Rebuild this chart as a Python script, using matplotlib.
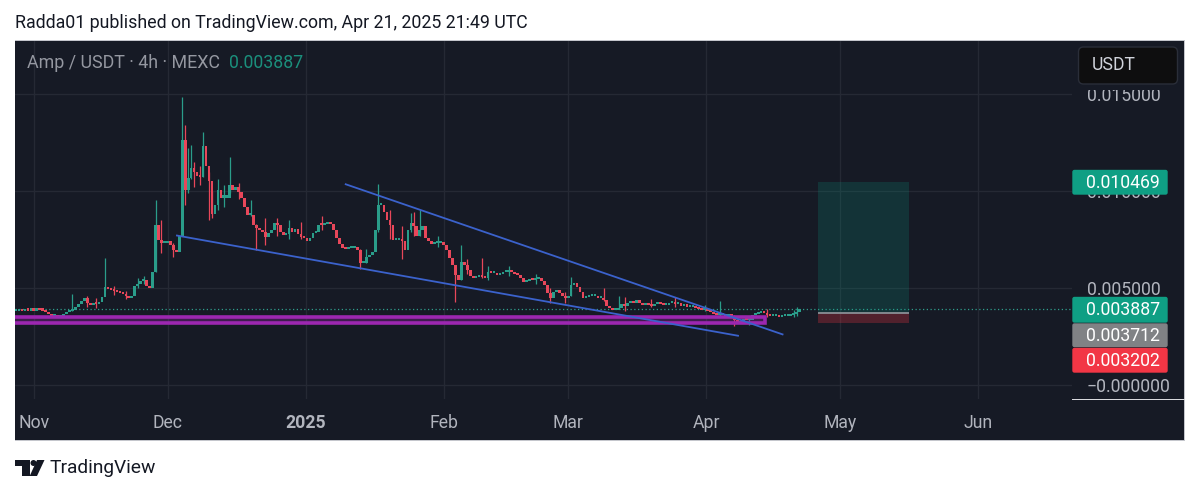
import numpy as np
import matplotlib
matplotlib.use("Agg")
import matplotlib.pyplot as plt
from matplotlib.patches import Rectangle, FancyBboxPatch, Polygon, Circle
from matplotlib.transforms import Affine2D

plt.rcParams["font.family"] = "Roboto"

# ---------- data (prices in thousandths of USDT, days since 1 Nov 2024) ----------
CANDLE_START_DAY = -4.04
CANDLE_STEP_DAY = 2 / 3
CLOSES = [
 3.80,3.82,3.80,3.85,3.82,3.85,3.82,3.88,3.85,3.82,
 3.75,3.64,3.54,3.54,3.49,3.54,3.64,3.75,3.80,3.85,
 4.00,4.16,4.32,4.47,4.21,4.11,4.21,4.16,4.26,4.52,
 5.04,4.94,4.88,4.83,4.78,4.73,4.68,4.57,4.47,4.57,
 5.09,5.19,5.35,5.40,5.09,4.99,5.81,8.24,7.47,7.31,
 7.31,7.42,7.21,6.95,6.85,7.68,12.64,10.05,10.67,11.19,
 10.98,10.77,10.72,12.34,11.29,10.51,8.81,9.28,10.05,9.66,
 9.66,9.66,10.31,10.05,10.20,9.95,9.66,9.16,8.76,8.76,
 8.24,8.09,7.99,7.88,7.62,7.83,7.99,8.35,8.24,7.88,
 7.73,7.78,8.09,7.88,8.04,7.78,7.62,7.57,7.42,7.57,
 7.83,7.88,8.24,8.22,8.30,8.40,8.30,7.99,7.57,7.26,
 7.06,7.00,7.06,7.06,7.10,6.95,6.28,6.28,6.59,6.69,
 6.85,7.99,9.28,9.28,8.90,8.50,8.24,7.47,7.47,7.47,
 7.42,6.95,7.99,8.35,8.20,7.68,7.99,8.20,7.57,7.42,
 7.26,7.31,7.31,7.36,7.21,6.95,6.54,6.18,5.66,5.40,
 6.33,6.18,5.92,5.61,5.50,5.56,5.66,5.56,5.50,5.81,
 5.76,5.76,5.66,5.71,5.81,5.81,5.87,5.81,5.71,5.66,
 5.50,5.30,5.35,5.45,5.40,5.45,5.50,5.35,5.14,4.73,
 4.47,4.78,4.88,4.73,4.57,4.47,4.57,5.14,5.25,5.04,
 4.78,4.47,4.52,4.57,4.57,4.57,4.47,4.47,4.37,4.06,
 3.95,3.85,3.85,3.95,4.16,4.06,4.21,4.26,4.21,4.37,
 4.21,4.11,4.16,4.11,4.06,4.16,4.21,4.16,4.11,4.11,
 4.21,4.21,4.16,4.21,4.06,4.16,4.00,4.00,4.06,3.95,
 3.90,3.85,3.85,3.80,3.75,3.64,3.59,3.59,3.59,3.54,
 3.59,3.54,3.33,3.18,3.23,3.39,3.33,3.33,3.59,3.64,
 3.70,3.75,3.70,3.59,3.54,3.54,3.54,3.49,3.54,3.54,
 3.54,3.59,3.64,3.75,3.887,
]
WICK_INDEX = [19,24,27,30,33,37,41,43,47,49,53,56,57,58,59,60,62,63,65,66,68,70,72,75,79,81,84,88,92,96,
              103,116,118,122,126,130,133,134,136,142,148,150,152,157,159,166,175,180,185,187,198,203,
              205,214,222,232,237,242,247,253,262,263]
WICK_HIGH  = [4.68,4.60,4.45,6.54,5.10,4.85,5.50,5.60,9.54,8.50,7.30,14.86,13.41,12.20,12.38,11.50,11.30,13.05,11.00,10.00,10.60,10.30,11.76,10.40,9.54,8.30,8.60,8.60,8.50,8.40,
              8.70,7.00,7.00,10.36,9.00,8.20,8.86,8.90,9.02,7.70,6.00,7.21,6.50,6.54,6.10,6.10,5.70,5.00,4.80,5.56,4.99,4.57,
              4.50,4.40,4.50,4.10,4.32,3.60,3.50,3.90,3.85,4.00]
WICK_LOW   = [3.80,4.00,3.95,4.90,4.65,4.40,5.00,5.20,5.80,6.80,6.60,7.68,9.28,9.90,10.60,10.20,10.30,10.70,8.50,8.60,9.00,9.20,9.90,9.60,8.70,6.95,7.20,7.70,7.50,7.50,
              8.00,5.95,6.30,7.90,7.50,6.50,7.90,7.70,7.70,7.10,4.26,5.40,5.70,5.50,5.40,5.60,5.20,4.20,4.20,4.60,4.30,3.90,
              3.80,4.00,4.00,3.80,3.50,3.00,3.05,3.50,3.50,3.55]

WEDGE_LOWER_DAYS = [32.1, 158.1]
WEDGE_LOWER_PRICE = [7.70, 2.52]
WEDGE_UPPER_DAYS = [70.0, 168.1]
WEDGE_UPPER_PRICE = [10.35, 2.59]
ZONE_PRICE = [3.17, 3.47]
ZONE_END_DAY = 164.2
POSITION_DAYS = [176.0, 196.5]
TARGET, ENTRY, STOP, LAST = 10.469, 3.712, 3.202, 3.887

MONTH_DAYS = [0, 30, 61, 92, 120, 151, 181, 212]
MONTH_LABELS = ["Nov", "Dec", "2025", "Feb", "Mar", "Apr", "May", "Jun"]
PRICE_TICKS = [0, 5, 10, 15]
PRICE_LABELS = ["\u22120.000000", "0.005000", "0.010000", "0.015000"]

# ---------- styling ----------
BG = "#161a25"; GRID = "#252934"; TXT = "#b2b5be"
GREEN = "#2a9d8a"; RED = "#e8475a"; BLUE = "#3b62cc"; PURPLE = "#9c27b0"

W, H = 1200, 493
fig = plt.figure(figsize=(W/100, H/100), dpi=100, facecolor="white")
px = Affine2D().scale(1, -1).translate(0, H)   # figure pixels, y down

fig.add_artist(Rectangle((15, 41), 1170, 399, transform=px, fc=BG, ec="none", zorder=-2))
fig.add_artist(Rectangle((15, 40), 1170, 1.2, transform=px, fc="#c4c6cc", ec="none", zorder=-1))
fig.add_artist(Rectangle((1184, 40), 1.2, 400, transform=px, fc="#c4c6cc", ec="none", zorder=-1))
fig.add_artist(Rectangle((15, 439.5), 1170, 1, transform=px, fc="#c4c6cc", ec="none", zorder=-1))
fig.add_artist(Rectangle((1072, 398.5), 113, 1.2, transform=px, fc="#d8d9dd", ec="none", zorder=6))

ax = fig.add_axes([15/W, 1-399/H, (1072-15)/W, (399-41)/H])
ax.patch.set_alpha(0)
ax.set_xlim((15-34)/4.453, (1072-34)/4.453)
ax.set_ylim((384.5-399)/19.347, (384.5-41)/19.347)
for s in ax.spines.values():
    s.set_visible(False)
ax.set_xticks(MONTH_DAYS, MONTH_LABELS)
ax.set_yticks(PRICE_TICKS, PRICE_LABELS)
ax.yaxis.tick_right()
ax.tick_params(axis="both", length=0, colors=TXT, labelsize=12.7)
ax.tick_params(axis="x", pad=11)
ax.tick_params(axis="y", pad=10.5)
for l in ax.get_xticklabels():
    if l.get_text() == "2025":
        l.set_fontweight("bold")
ax.grid(True, color=GRID, lw=1)
ax.set_axisbelow(True)

# candles
closes = np.array(CLOSES)
days = CANDLE_START_DAY + CANDLE_STEP_DAY * np.arange(len(closes))
opens = np.r_[closes[0], closes[:-1]]
cols = np.where(closes >= opens, GREEN, RED)
ax.vlines(days[WICK_INDEX], WICK_LOW, WICK_HIGH, colors=cols[WICK_INDEX], lw=0.9, zorder=3)
ax.bar(days, np.maximum(np.abs(closes-opens), 0.11), bottom=np.minimum(opens, closes),
       width=0.6, color=cols, lw=0, zorder=3)

# dotted last-price line
ax.axhline(LAST, color="#2f9d8c", lw=0.9, ls=(0, (1, 2)), zorder=2)

# purple zone
ax.add_patch(Rectangle((-10, ZONE_PRICE[0]), ZONE_END_DAY+10, ZONE_PRICE[1]-ZONE_PRICE[0],
                       fc=(0.61, 0.15, 0.69, 0.3), ec=PURPLE, lw=2.6, zorder=4))
# wedge
ax.plot(WEDGE_LOWER_DAYS, WEDGE_LOWER_PRICE, color=BLUE, lw=1.3, zorder=5)
ax.plot(WEDGE_UPPER_DAYS, WEDGE_UPPER_PRICE, color=BLUE, lw=1.3, zorder=5)

# long position tool
pw = POSITION_DAYS[1]-POSITION_DAYS[0]
ax.add_patch(Rectangle((POSITION_DAYS[0], ENTRY), pw, TARGET-ENTRY, fc="#089981", alpha=0.2, lw=0, zorder=2))
ax.add_patch(Rectangle((POSITION_DAYS[0], STOP), pw, ENTRY-STOP, fc="#f23645", alpha=0.27, lw=0, zorder=2))
ax.plot(POSITION_DAYS, [ENTRY, ENTRY], color="#8a8f96", lw=1.3, zorder=3, solid_capstyle="butt")

# price tags
def tag(y0, y1, col, txt):
    fig.add_artist(FancyBboxPatch((1073, y0+1), 94, y1-y0-2, boxstyle="round,pad=0,rounding_size=1.5",
                   transform=px, fc=col, ec=col, lw=1, zorder=5))
    fig.text(1086/W, 1-((y0+y1)/2+0.5)/H, txt, color="white", fontsize=12.7, va="center", ha="left", zorder=7)
tag(169.5, 195, "#0f9f84", f"{TARGET/1000:.6f}")
tag(296.5, 323, "#0f9f84", f"{LAST/1000:.6f}")
tag(323, 347.5, "#808285", f"{ENTRY/1000:.6f}")
tag(347.5, 373, "#f23645", f"{STOP/1000:.6f}")

# currency box
fig.add_artist(Rectangle((1078, 84), 100, 6, transform=px, fc=BG, ec="none", zorder=4))
fig.add_artist(FancyBboxPatch((1078.5, 47), 99, 37, boxstyle="round,pad=0,rounding_size=5", transform=px,
               fc="#0e0e0f", ec="#2a2e39", lw=1, zorder=5))
fig.text(1092/W, 1-65.5/H, "USDT", color="#d1d4dc", fontsize=12.7, va="center", ha="left", zorder=7)

# header / legend
fig.text(15/W, 1-23.5/H, "Radda01 published on TradingView.com, Apr 21, 2025 21:49 UTC",
         color="#131722", fontsize=12.8, va="center", ha="left")
fig.text(27/W, 1-63.5/H, "Amp / USDT \u00b7 4h \u00b7 MEXC", color="#9598a1", fontsize=12.85, va="center", ha="left")
fig.text(229/W, 1-63.5/H, f"{LAST/1000:.6f}", color="#1b8f7c", fontsize=12.7, va="center", ha="left")

# footer logo
fig.add_artist(Polygon([(15,460),(29.5,460),(29.5,476),(22,476),(22,466),(15,466)], closed=True,
               transform=px, fc="#131722", ec="none"))
fig.add_artist(Polygon([(37,460),(44.5,460),(37,476),(29.7,476)], closed=True, transform=px, fc="#131722", ec="none"))
fig.add_artist(Circle((33.5, 463), 3, transform=px, fc="#131722", ec="none"))
fig.text(50/W, 1-468/H, "TradingView", color="#131722", fontsize=13.75, va="center", ha="left")

fig.savefig("out.png", dpi=100)
